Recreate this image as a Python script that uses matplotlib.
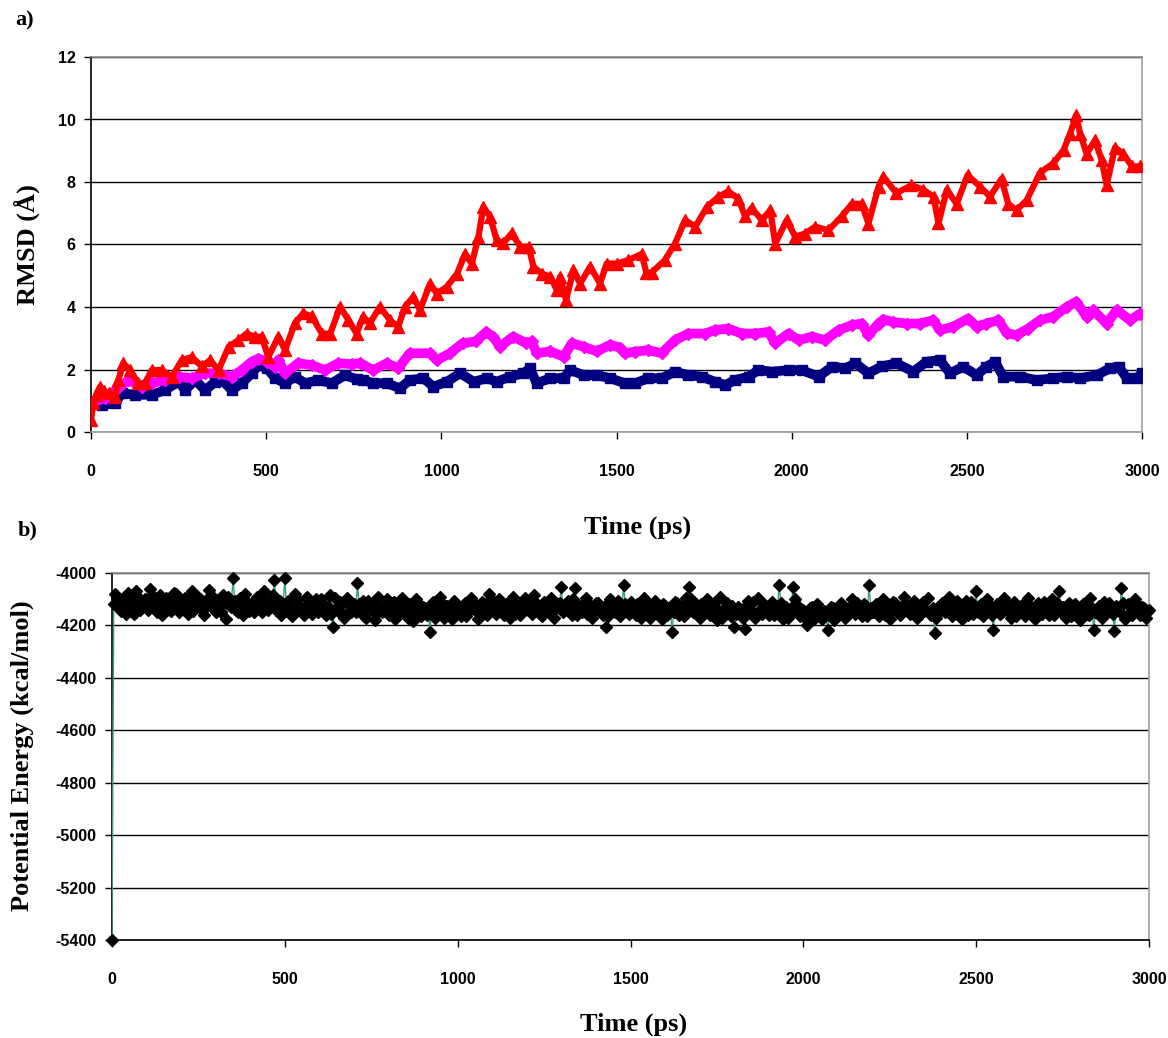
import matplotlib
matplotlib.use("Agg")
import matplotlib.pyplot as plt
import numpy as np

# ---------------- Panel a data (RMSD, Å) ----------------
red_t = [0, 7, 15, 26, 38, 50, 69, 78, 92, 111, 135, 154, 173, 202, 231, 259, 288, 316, 340, 364,
         393, 421, 444, 468, 487, 506, 535, 554, 582, 606, 630, 659, 683, 711, 735, 758, 777, 796,
         825, 853, 877, 896, 920, 939, 968, 987, 1016, 1045, 1068, 1087, 1106, 1120, 1139, 1158,
         1177, 1201, 1225, 1249, 1263, 1287, 1311, 1330, 1339, 1356, 1377, 1396, 1425, 1453, 1472,
         1501, 1534, 1572, 1585, 1600, 1638, 1667, 1696, 1725, 1758, 1791, 1819, 1848, 1867, 1886,
         1915, 1939, 1953, 1986, 2010, 2038, 2067, 2105, 2143, 2172, 2200, 2219, 2248, 2262, 2299,
         2342, 2376, 2405, 2419, 2443, 2471, 2502, 2538, 2566, 2599, 2618, 2642, 2671, 2709, 2747,
         2776, 2795, 2812, 2823, 2842, 2866, 2885, 2899, 2923, 2947, 2971, 2995]
red_v = [0.4, 0.92, 1.2, 1.45, 1.3, 1.24, 1.13, 1.66, 2.2, 1.98, 1.56, 1.56, 1.98, 1.98, 1.77, 2.3,
         2.4, 2.1, 2.3, 1.98, 2.73, 2.94, 3.15, 3.05, 3.05, 2.4, 3.05, 2.62, 3.48, 3.8, 3.7, 3.15,
         3.15, 4.01, 3.58, 3.15, 3.69, 3.48, 4.01, 3.58, 3.37, 4.0, 4.33, 3.9, 4.75, 4.43, 4.65,
         5.07, 5.7, 5.39, 6.25, 7.2, 6.89, 6.14, 6.04, 6.36, 5.93, 5.93, 5.29, 5.07, 4.97, 4.54,
         4.97, 4.22, 5.18, 4.75, 5.29, 4.75, 5.39, 5.39, 5.5, 5.7, 5.1, 5.1, 5.5, 6.03, 6.78, 6.57,
         7.2, 7.53, 7.7, 7.47, 6.9, 7.16, 6.78, 7.1, 6.03, 6.78, 6.25, 6.35, 6.57, 6.46, 6.9, 7.3,
         7.3, 6.67, 7.85, 8.17, 7.64, 7.9, 7.75, 7.53, 6.68, 7.75, 7.3, 8.22, 7.85, 7.53, 8.1, 7.3,
         7.1, 7.42, 8.3, 8.6, 9.02, 9.55, 10.14, 9.55, 8.9, 9.34, 8.7, 7.9, 9.1, 8.9, 8.5, 8.5]

mag_t = [0, 40, 78, 107, 145, 173, 211, 250, 288, 325, 364, 402, 430, 459, 478, 502, 526, 535, 554,
         592, 630, 668, 706, 744, 768, 806, 844, 877, 910, 968, 987, 1025, 1061, 1099, 1128, 1148,
         1167, 1205, 1243, 1258, 1272, 1311, 1349, 1373, 1406, 1444, 1482, 1510, 1524, 1553, 1591,
         1629, 1667, 1705, 1753, 1781, 1819, 1857, 1896, 1934, 1953, 1991, 2020, 2058, 2096, 2134,
         2172, 2200, 2219, 2248, 2262, 2290, 2328, 2366, 2404, 2423, 2461, 2504, 2528, 2556, 2590,
         2614, 2642, 2675, 2709, 2747, 2785, 2812, 2842, 2861, 2899, 2928, 2966, 2995]
mag_v = [0.9, 1.1, 1.4, 1.66, 1.45, 1.56, 1.66, 1.77, 1.72, 1.88, 1.88, 1.77, 1.98, 2.25, 2.35,
         2.25, 2.08, 2.3, 1.88, 2.2, 2.14, 1.98, 2.2, 2.17, 2.2, 1.98, 2.2, 2.04, 2.52, 2.52, 2.3,
         2.52, 2.84, 2.9, 3.2, 3.05, 2.73, 3.05, 2.84, 2.9, 2.52, 2.58, 2.41, 2.84, 2.73, 2.58,
         2.79, 2.7, 2.52, 2.57, 2.62, 2.52, 2.94, 3.15, 3.15, 3.26, 3.31, 3.15, 3.15, 3.2, 2.84,
         3.15, 2.94, 3.05, 2.94, 3.26, 3.42, 3.47, 3.1, 3.47, 3.6, 3.52, 3.47, 3.47, 3.58, 3.26,
         3.37, 3.63, 3.37, 3.47, 3.58, 3.16, 3.1, 3.31, 3.58, 3.69, 4.0, 4.17, 3.69, 3.9, 3.47,
         3.9, 3.58, 3.79]

navy_t = [0, 31, 69, 88, 126, 173, 211, 250, 269, 297, 326, 355, 374, 402, 430, 459, 478, 502,
          526, 554, 582, 611, 649, 687, 725, 758, 777, 806, 844, 882, 910, 949, 977, 1016, 1054,
          1092, 1130, 1158, 1196, 1234, 1253, 1272, 1311, 1349, 1368, 1406, 1444, 1482, 1524, 1553,
          1591, 1629, 1667, 1705, 1743, 1781, 1810, 1838, 1877, 1905, 1943, 1991, 2029, 2077, 2115,
          2153, 2182, 2219, 2257, 2299, 2347, 2385, 2423, 2452, 2490, 2528, 2556, 2580, 2604, 2652,
          2699, 2747, 2785, 2823, 2871, 2909, 2933, 2957, 2985, 3000]
navy_v = [0.92, 0.86, 0.92, 1.24, 1.19, 1.19, 1.34, 1.61, 1.34, 1.66, 1.34, 1.61, 1.66, 1.34, 1.56,
          1.88, 2.14, 2.04, 1.72, 1.56, 1.77, 1.56, 1.66, 1.56, 1.82, 1.69, 1.66, 1.56, 1.56, 1.4,
          1.66, 1.72, 1.45, 1.61, 1.88, 1.61, 1.72, 1.61, 1.77, 1.88, 2.04, 1.56, 1.72, 1.72, 1.98,
          1.82, 1.82, 1.72, 1.56, 1.56, 1.72, 1.72, 1.93, 1.82, 1.77, 1.61, 1.5, 1.66, 1.77, 1.98,
          1.93, 1.98, 1.98, 1.77, 2.09, 2.04, 2.2, 1.88, 2.1, 2.2, 1.93, 2.25, 2.3, 1.88, 2.09, 1.82,
          2.09, 2.25, 1.77, 1.77, 1.66, 1.72, 1.77, 1.72, 1.82, 2.04, 2.09, 1.72, 1.72, 1.88]

# ---------------- Panel b data (Potential energy, kcal/mol) ----------------
energy_t = list(range(0, 3001, 10))
energy_v = [-5400,
    -4080, -4135, -4100, -4155, -4090, -4120, -4070, -4140, -4105, -4130,
    -4060, -4115, -4150, -4085, -4125, -4100, -4145, -4075, -4110, -4135,
    -4095, -4155, -4070, -4120, -4090, -4140, -4105, -4065, -4130, -4150,
    -4100, -4085, -4176, -4120, -4020, -4140, -4095, -4160, -4110, -4130,
    -4150, -4090, -4125, -4070, -4140, -4100, -4025, -4115, -4160, -4020,
    -4105, -4165, -4080, -4130, -4145, -4095, -4120, -4155, -4100, -4140,
    -4125, -4160, -4085, -4205, -4135, -4110, -4170, -4095, -4150, -4120,
    -4040, -4140, -4165, -4105, -4130, -4180, -4090, -4150, -4125, -4160,
    -4115, -4175, -4135, -4095, -4155, -4120, -4185, -4100, -4145, -4130,
    -4160, -4224, -4110, -4145, -4090, -4170, -4125, -4155, -4105, -4140,
    -4165, -4115, -4150, -4095, -4135, -4175, -4110, -4145, -4080, -4130,
    -4155, -4100, -4140, -4120, -4170, -4090, -4135, -4160, -4105, -4125,
    -4145, -4085, -4130, -4160, -4110, -4140, -4095, -4170, -4120, -4052,
    -4135, -4105, -4160, -4058, -4125, -4150, -4095, -4140, -4170, -4115,
    -4130, -4160, -4205, -4100, -4145, -4120, -4165, -4045, -4135, -4110,
    -4150, -4120, -4170, -4095, -4140, -4160, -4105, -4135, -4175, -4125,
    -4145, -4224, -4110, -4160, -4130, -4095, -4055, -4150, -4120, -4170,
    -4135, -4100, -4160, -4125, -4180, -4090, -4145, -4115, -4165, -4205,
    -4130, -4150, -4212, -4105, -4140, -4170, -4095, -4155, -4125, -4160,
    -4110, -4145, -4045, -4175, -4130, -4155, -4052, -4120, -4165, -4140,
    -4200, -4135, -4175, -4120, -4160, -4145, -4218, -4130, -4180, -4150,
    -4115, -4170, -4140, -4100, -4155, -4125, -4165, -4135, -4047, -4150,
    -4120, -4165, -4100, -4145, -4175, -4110, -4135, -4160, -4090, -4140,
    -4155, -4105, -4170, -4125, -4145, -4095, -4160, -4229, -4130, -4115,
    -4150, -4090, -4165, -4120, -4140, -4175, -4105, -4135, -4155, -4067,
    -4130, -4165, -4100, -4145, -4217, -4120, -4155, -4095, -4140, -4170,
    -4110, -4150, -4125, -4165, -4095, -4140, -4175, -4115, -4155, -4130,
    -4160, -4100, -4145, -4068, -4130, -4170, -4115, -4150, -4135, -4180,
    -4120, -4155, -4095, -4218, -4140, -4165, -4110, -4150, -4125, -4220,
    -4135, -4058, -4175, -4120, -4160, -4100, -4145, -4130, -4170, -4140]
# the frames in between (5, 15, ... 2995 ps)
energy_t_mid = list(range(5, 3000, 10))
energy_v_mid = [
    -4120, -4095, -4145, -4110, -4075, -4130, -4155, -4090, -4125, -4100,
    -4140, -4085, -4120, -4105, -4160, -4095, -4115, -4130, -4080, -4150,
    -4110, -4130, -4090, -4145, -4120, -4100, -4160, -4125, -4085, -4115,
    -4135, -4150, -4110, -4090, -4130, -4105, -4150, -4120, -4080, -4145,
    -4115, -4135, -4095, -4150, -4110, -4130, -4085, -4140, -4105, -4120,
    -4140, -4110, -4150, -4100, -4125, -4160, -4090, -4135, -4115, -4150,
    -4100, -4140, -4125, -4155, -4095, -4145, -4120, -4160, -4110, -4135,
    -4150, -4120, -4105, -4170, -4135, -4115, -4155, -4125, -4145, -4100,
    -4140, -4110, -4160, -4125, -4145, -4170, -4130, -4150, -4115, -4165,
    -4135, -4150, -4120, -4170, -4140, -4115, -4155, -4130, -4175, -4120,
    -4145, -4125, -4165, -4130, -4110, -4150, -4140, -4120, -4160, -4100,
    -4130, -4150, -4115, -4160, -4135, -4110, -4155, -4125, -4145, -4095,
    -4125, -4155, -4110, -4140, -4165, -4120, -4150, -4105, -4135, -4115,
    -4150, -4120, -4140, -4100, -4160, -4130, -4115, -4155, -4125, -4145,
    -4115, -4145, -4125, -4165, -4130, -4150, -4105, -4140, -4120, -4155,
    -4135, -4160, -4125, -4145, -4110, -4170, -4130, -4150, -4140, -4120,
    -4160, -4130, -4150, -4115, -4140, -4165, -4125, -4100, -4145, -4130,
    -4120, -4150, -4135, -4160, -4110, -4145, -4170, -4130, -4150, -4125,
    -4155, -4135, -4170, -4125, -4150, -4110, -4160, -4140, -4120, -4145,
    -4125, -4160, -4140, -4115, -4150, -4170, -4135, -4100, -4145, -4160,
    -4170, -4150, -4130, -4165, -4140, -4175, -4155, -4160, -4135, -4165,
    -4145, -4125, -4160, -4130, -4140, -4115, -4150, -4120, -4165, -4135,
    -4150, -4130, -4120, -4160, -4135, -4145, -4115, -4150, -4130, -4120,
    -4130, -4145, -4125, -4160, -4110, -4140, -4155, -4135, -4170, -4145,
    -4120, -4140, -4130, -4155, -4105, -4150, -4125, -4160, -4110, -4140,
    -4150, -4120, -4140, -4115, -4160, -4135, -4125, -4150, -4120, -4145,
    -4130, -4165, -4140, -4120, -4150, -4125, -4160, -4135, -4145, -4110,
    -4140, -4125, -4160, -4115, -4150, -4135, -4130, -4165, -4120, -4150,
    -4145, -4120, -4160, -4135, -4150, -4125, -4170, -4140, -4115, -4155,
    -4125, -4150, -4115, -4165, -4130, -4145, -4120, -4160, -4135, -4150]

a_yticks = [0, 2, 4, 6, 8, 10, 12]
a_xticks = [0, 500, 1000, 1500, 2000, 2500, 3000]
b_yticks = [-5400, -5200, -5000, -4800, -4600, -4400, -4200, -4000]
b_xticks = [0, 500, 1000, 1500, 2000, 2500, 3000]

TICK_FONT = dict(family="Liberation Sans", weight="bold", size=11.5)
LABEL_FONT = dict(family="Liberation Serif", weight="bold", size=19)

W, H = 1168, 1038
fig = plt.figure(figsize=(W / 100, H / 100), dpi=100)


def px_rect(l, t, r, b):
    return [l / W, 1 - b / H, (r - l) / W, (b - t) / H]


def style_axes(ax, bottom_color):
    ax.grid(axis="y", color="black", linewidth=1.0, zorder=0)
    ax.set_axisbelow(True)
    ax.spines["left"].set_color("black")
    ax.spines["top"].set_color("#8c8c8c")
    ax.spines["right"].set_color("#a0a0a0")
    ax.spines["bottom"].set_color(bottom_color)
    for s in ax.spines.values():
        s.set_linewidth(1.2)
    ax.tick_params(axis="both", direction="out", length=5, width=1, color="black")
    ax.tick_params(axis="y", pad=6)
    ax.tick_params(axis="x", pad=18)
    for lab in ax.get_xticklabels() + ax.get_yticklabels():
        lab.set_fontfamily(TICK_FONT["family"])
        lab.set_fontweight(TICK_FONT["weight"])
        lab.set_fontsize(TICK_FONT["size"])


# ---------- Panel a ----------
ax1 = fig.add_axes(px_rect(91, 57, 1142, 432))
ax1.plot(navy_t, navy_v, color="#000080", lw=7, marker="s", ms=6.5,
         solid_joinstyle="round", solid_capstyle="round", zorder=3)
ax1.plot(mag_t, mag_v, color="#ff00ff", lw=7, marker="D", ms=6.5,
         solid_joinstyle="round", solid_capstyle="round", zorder=4)
ax1.plot(red_t, red_v, color="#ff0000", lw=4.5, marker="^", ms=9,
         solid_joinstyle="round", zorder=5)
ax1.set_xlim(0, 3000)
ax1.set_ylim(0, 12)
ax1.set_xticks(a_xticks)
ax1.set_yticks(a_yticks)
ax1.set_xticklabels([str(v) for v in a_xticks])
ax1.set_yticklabels([str(v) for v in a_yticks])
style_axes(ax1, "#9a9a9a")

# ---------- Panel b ----------
ax2 = fig.add_axes(px_rect(112, 573, 1149, 940))
et = np.array(energy_t + energy_t_mid)
ev = np.array(energy_v + energy_v_mid)
order = np.argsort(et, kind="stable")
et, ev = et[order], ev[order]
ax2.plot(et, ev, color="#3a9e7e", lw=1.0, zorder=3)
ax2.plot(et, ev, linestyle="none", marker="D", ms=6,
         color="black", zorder=4, clip_on=False)
ax2.set_xlim(0, 3000)
ax2.set_ylim(-5400, -4000)
ax2.set_xticks(b_xticks)
ax2.set_yticks(b_yticks)
ax2.set_xticklabels([str(v) for v in b_xticks])
ax2.set_yticklabels([str(v) for v in b_yticks])
style_axes(ax2, "black")

# ---------- Texts ----------
fig.text(15 / W, 1 - 20 / H, "a)", fontfamily="Liberation Serif", fontweight="bold",
         fontsize=16, ha="left", va="center")
fig.text(18 / W, 1 - 530 / H, "b)", fontfamily="Liberation Serif", fontweight="bold",
         fontsize=16, ha="left", va="center")
fig.text(27 / W, 1 - 245 / H, "RMSD (Å)", rotation=90, ha="center", va="center", **LABEL_FONT)
fig.text(638 / W, 1 - 527 / H, "Time (ps)", ha="center", va="center", **LABEL_FONT)
fig.text(22 / W, 1 - 756 / H, "Potential Energy (kcal/mol)", rotation=90, ha="center",
         va="center", **LABEL_FONT)
fig.text(634 / W, 1 - 1024 / H, "Time (ps)", ha="center", va="center", **LABEL_FONT)

fig.savefig("out.png", dpi=100, facecolor="white")
